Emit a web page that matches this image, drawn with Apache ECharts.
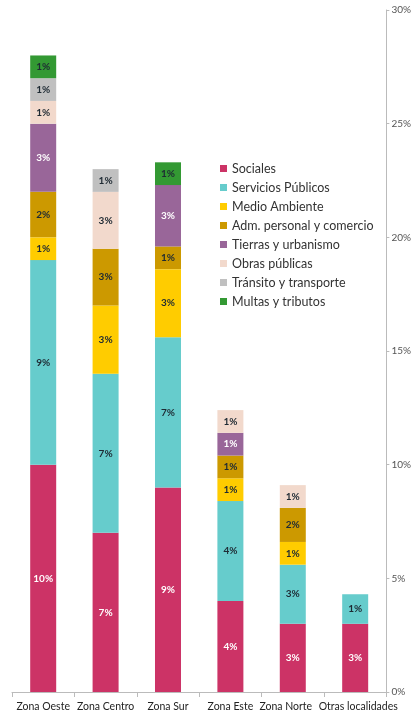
<!DOCTYPE html>
<html>
<head>
<meta charset="utf-8">
<script src="https://cdn.jsdelivr.net/npm/echarts@6/dist/echarts.min.js"></script>
<style>
  html, body { margin: 0; padding: 0; background: #fff; }
  #chart { width: 414px; height: 714px; }
</style>
</head>
<body>
<div id="chart"></div>
<script>
// Share of complaints by zone and subject (percent of total)
const zonas = ['Zona Oeste', 'Zona Centro', 'Zona Sur', 'Zona Este', 'Zona Norte', 'Otras localidades'];

const sociales      = [10, 7, 9, 4, 3, 3];
const servicios     = [9, 7, 6.6, 4.4, 2.6, 1.3];
const medioAmbiente = [1, 3, 3, 1, 1, null];
const admPersonal   = [2, 2.5, 1, 1, 1.5, null];
const tierras       = [3, null, 2.7, 1, null, null];
const obras         = [1, 2.5, null, 1, 1, null];
const transito      = [1, 1, null, null, null, null];
const multas        = [1, null, 1, null, null, null];

const yTicks = { min: 0, max: 30, interval: 5 };

const FONT = 'Lato, "Open Sans", sans-serif';

const seriesDefs = [
  { name: 'Sociales',                 data: sociales,      color: '#cc3366', text: '#ffffff' },
  { name: 'Servicios Públicos',       data: servicios,     color: '#66cccc', text: '#1e2a33' },
  { name: 'Medio Ambiente',           data: medioAmbiente, color: '#ffcc00', text: '#1e2a33' },
  { name: 'Adm. personal y comercio', data: admPersonal,   color: '#cc9900', text: '#1e2a33' },
  { name: 'Tierras y urbanismo',      data: tierras,       color: '#996699', text: '#ffffff' },
  { name: 'Obras públicas',           data: obras,         color: '#f2d9cc', text: '#1e2a33' },
  { name: 'Tránsito y transporte',    data: transito,      color: '#c0c0c0', text: '#1e2a33' },
  { name: 'Multas y tributos',        data: multas,        color: '#339933', text: '#1e2a33' }
];

// The two rightmost category names are long; nudge them apart so they don't collide.
const catLabelBase = { fontFamily: FONT, fontSize: 10.5, color: '#222222' };
const catLabelRich = {
  base:  { ...catLabelBase },
  left:  { ...catLabelBase, padding: [0, 14, 0, 0] },
  right: { ...catLabelBase, padding: [0, 0, 0, 6] }
};
const catLabelStyleFor = name =>
  name === 'Zona Norte' ? 'left' : name === 'Otras localidades' ? 'right' : 'base';

const chart = echarts.init(document.getElementById('chart'), null, { renderer: 'canvas' });

chart.setOption({
  animation: false,
  backgroundColor: '#ffffff',
  textStyle: { fontFamily: FONT },
  grid: { left: 12, right: 18, top: 10, bottom: 22, containLabel: false },
  legend: {
    orient: 'vertical',
    left: 215,
    top: 157,
    icon: 'rect',
    itemWidth: 7,
    itemHeight: 7,
    itemGap: 6,
    selectedMode: false,
    textStyle: { fontFamily: FONT, fontSize: 12.5, color: '#333333', padding: [0, 0, 0, 0] },
    data: seriesDefs.map(s => s.name)
  },
  xAxis: {
    type: 'category',
    data: zonas,
    axisLine: { show: true, lineStyle: { color: '#bbbbbb', width: 1 } },
    axisTick: { show: true, alignWithLabel: false, length: 5, lineStyle: { color: '#bbbbbb' } },
    axisLabel: {
      ...catLabelBase,
      margin: 9,
      interval: 0,
      formatter: v => '{' + catLabelStyleFor(v) + '|' + v + '}',
      rich: catLabelRich
    },
    splitLine: { show: false }
  },
  yAxis: {
    type: 'value',
    position: 'right',
    min: yTicks.min,
    max: yTicks.max,
    interval: yTicks.interval,
    axisLine: { show: true, lineStyle: { color: '#bbbbbb', width: 1 } },
    axisTick: { show: true, length: 3, lineStyle: { color: '#bbbbbb' } },
    axisLabel: { fontFamily: FONT, fontSize: 10, color: '#555555', margin: 5, formatter: '{value}%' },
    splitLine: { show: false }
  },
  series: seriesDefs.map(s => ({
    name: s.name,
    type: 'bar',
    stack: 'total',
    barWidth: 26,
    data: s.data,
    itemStyle: { color: s.color },
    label: {
      show: true,
      position: 'inside',
      fontFamily: FONT,
      fontSize: 10,
      fontWeight: 'bold',
      color: s.text,
      formatter: p => (p.value == null ? '' : Math.round(p.value) + '%')
    }
  }))
});
</script>
</body>
</html>
